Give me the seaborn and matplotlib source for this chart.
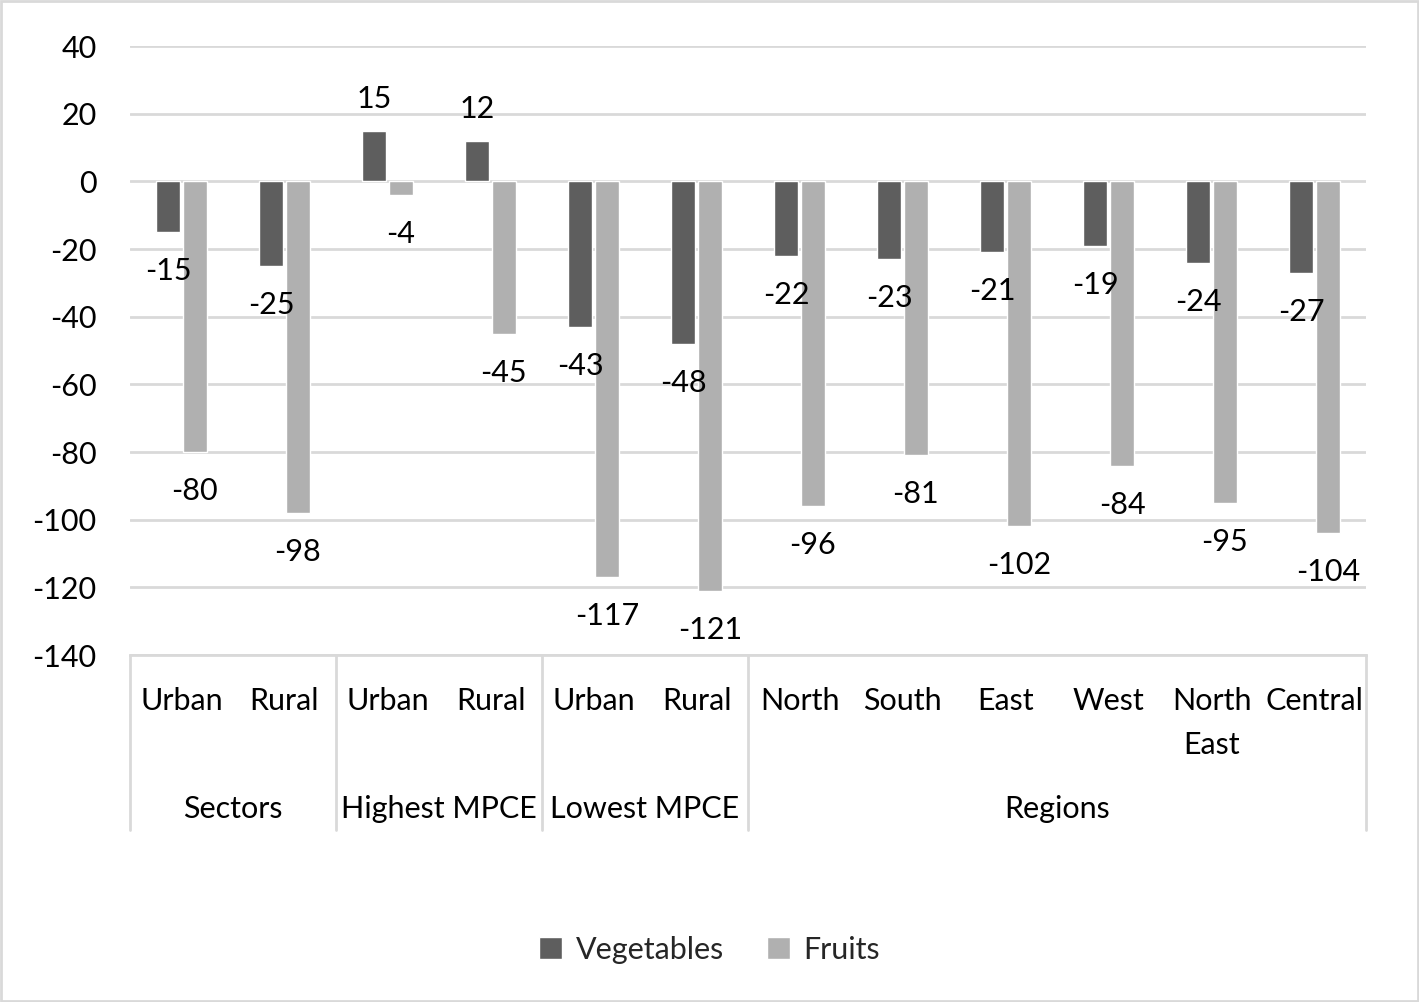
import matplotlib
matplotlib.use("Agg")
import matplotlib.pyplot as plt
import matplotlib.transforms as mtransforms
from matplotlib.patches import Rectangle, Patch
import seaborn as sns
import pandas as pd

categories = ["Urban", "Rural", "Urban", "Rural", "Urban", "Rural",
              "North", "South", "East", "West", "North\nEast", "Central"]
groups = ["Sectors", "Highest MPCE", "Lowest MPCE", "Regions"]
group_sizes = [2, 2, 2, 6]
vegetables = [-15, -25, 15, 12, -43, -48, -22, -23, -21, -19, -24, -27]
fruits = [-80, -98, -4, -45, -117, -121, -96, -81, -102, -84, -95, -104]
series = ["Vegetables", "Fruits"]
colors = {"Vegetables": "#5e5e5e", "Fruits": "#b0b0b0"}

keys = [f"c{i}" for i in range(len(categories))]
df = pd.DataFrame({
    "key": keys * 2,
    "value": vegetables + fruits,
    "series": ["Vegetables"] * len(keys) + ["Fruits"] * len(keys),
})

sns.set_theme(style="white")
plt.rcParams["font.family"] = ["Lato", "DejaVu Sans"]
plt.rcParams["axes.unicode_minus"] = False
FS = 22

fig = plt.figure(figsize=(14.19, 10.02), dpi=100)
ax = fig.add_axes([0.0916, 0.3463, 0.9627 - 0.0916, 0.954 - 0.3463])

sns.barplot(data=df, x="key", y="value", hue="series", order=keys,
            hue_order=series, palette=colors, width=0.52, gap=0.1,
            saturation=1, ax=ax, legend=False, errorbar=None)

ax.set_ylim(-140, 40)
ax.set_xlim(-0.5, len(keys) - 0.5)
ax.set_yticks(range(-140, 41, 20))
ax.yaxis.grid(True, color="#d9d9d9", linewidth=2)
ax.set_axisbelow(True)
for s in ["top", "right", "left"]:
    ax.spines[s].set_visible(False)
ax.spines["bottom"].set_color("#d9d9d9")
ax.spines["bottom"].set_linewidth(2)
ax.tick_params(axis="y", length=0, pad=24, labelsize=FS, labelcolor="black")
ax.tick_params(axis="x", length=0, pad=23, labelsize=FS, labelcolor="black")
ax.set_xticks(range(len(keys)))
ax.set_xticklabels(categories)
for t in ax.get_xticklabels():
    t.set_linespacing(1.7)
ax.set_xlabel("")
ax.set_ylabel("")

# data labels, centred a fixed pixel distance beyond each bar end
for cont, vals in zip(ax.containers, [vegetables, fruits]):
    for patch, v in zip(cont.patches, vals):
        xc = patch.get_x() + patch.get_width() / 2
        yend = patch.get_y() + patch.get_height()
        off = 32 if v > 0 else -39
        ax.annotate(f"{v:d}", xy=(xc, yend), xytext=(0, off * 0.72),
                    textcoords="offset points", ha="center", va="center",
                    fontsize=FS, color="black", annotation_clip=False)

trans = mtransforms.blended_transform_factory(ax.transData, ax.transAxes)
start = -0.5
bounds = [start]
for g, n in zip(groups, group_sizes):
    mid = start + n / 2
    ax.text(mid, -0.2529, g, transform=trans, ha="center", va="center",
            fontsize=FS, color="black")
    start += n
    bounds.append(start)
for b in bounds:
    ax.plot([b, b], [0, -0.287], transform=trans, color="#d9d9d9",
            linewidth=2, clip_on=False)

handles = [Patch(facecolor=colors[s], label=s) for s in series]
fig.legend(handles=handles, loc="center", bbox_to_anchor=(0.5, 0.052),
           ncol=2, frameon=False, fontsize=FS, handlelength=0.75,
           handleheight=0.75, handletextpad=0.45, columnspacing=1.4)

fig.patches.append(Rectangle((0.001, 0.001), 0.998, 0.998, transform=fig.transFigure,
                             fill=False, edgecolor="#d9d9d9", linewidth=2))

fig.savefig("out.png", dpi=100, facecolor="white")
